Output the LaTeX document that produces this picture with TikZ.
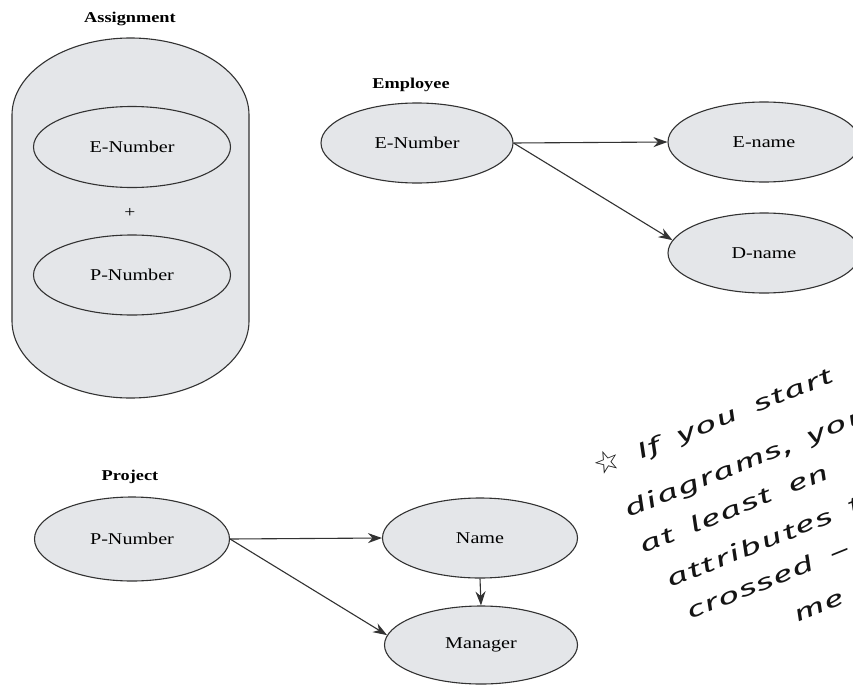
\documentclass[tikz,border=0pt]{standalone}
\usepackage{fontspec}
\setmainfont{Liberation Serif}[FakeStretch=1.22]
\newfontfamily\handfont{Fira Sans}[FakeStretch=1.7, LetterSpace=6, WordSpace=1.7]
\newfontfamily\starfont{DejaVu Sans}
\usetikzlibrary{shapes.geometric,arrows.meta}

\definecolor{attrfill}{RGB}{228,230,233}
\definecolor{inkline}{RGB}{50,50,50}
\definecolor{penink}{RGB}{20,20,20}

\begin{document}
\begin{tikzpicture}[x=1pt,y=-1pt,
  attr/.style={ellipse, draw=inkline, fill=attrfill, line width=1.1pt,
    minimum width=194pt, minimum height=80pt, inner sep=0pt,
    font=\fontsize{16.5}{19}\selectfont},
  heading/.style={font=\fontsize{15}{18}\selectfont\bfseries, inner sep=0pt},
  dep/.style={draw=inkline, line width=1.1pt, -{Stealth[length=14pt,width=10pt]}},
  note/.style={font=\handfont\itshape\fontsize{22}{26}\selectfont, text=penink,
    rotate=22, anchor=base west, inner sep=0pt},
]
\useasboundingbox (0,0) rectangle (853,685);
\clip (0,0) rectangle (853,685);
\fill[white] (0,0) rectangle (853,685);

% ---- Assignment: composite key ----
\node[heading] (asgT) at (130,19) {Assignment};
\draw[draw=inkline, fill=attrfill, line width=1.1pt]
  (12,115) arc[start angle=180, end angle=360, x radius=118.5, y radius=77]
  -- (249,321) arc[start angle=0, end angle=180, x radius=118.5, y radius=77]
  -- cycle;
\node[attr, minimum width=197pt, minimum height=81pt] (asgE) at (132,147) {E-Number};
\node[font=\fontsize{16}{19}\selectfont, inner sep=0pt] (plus) at (130,213) {+};
\node[attr, minimum width=197pt] (asgP) at (132,275) {P-Number};

% ---- Employee ----
\node[heading] (empT) at (411,85) {Employee};
\node[attr, minimum width=192pt] (empE) at (417,143) {E-Number};
\node[attr, minimum width=192pt] (ename) at (764,142) {E-name};
\node[attr, minimum width=192pt] (dname) at (764,253) {D-name};
\draw[dep] (empE.east) -- (ename.west);
\draw[dep] (empE.east) -- (dname.172);

% ---- Project ----
\node[heading] (prjT) at (130,477) {Project};
\node[attr, minimum width=195pt, minimum height=84pt] (prjP) at (132,539) {P-Number};
\node[attr, minimum width=195pt] (pname) at (480,538) {Name};
\node[attr, minimum width=193pt, minimum height=78pt] (mgr) at (481,645) {Manager};
\draw[dep] (prjP.east) -- (pname.west);
\draw[dep] (prjP.east) -- (mgr.174);
\draw[dep] (pname.south) -- (mgr.north);

% ---- handwritten remark ----
\node[note] (n1) at (598,477) {{\starfont\fontsize{30}{34}\selectfont ☆} If you start};
\node[note] (n2) at (628,518) {diagrams, you};
\node[note] (n3) at (643,554) {at least en};
\node[note] (n4) at (670,588) {attributes t};
\node[note] (n5) at (690,620) {crossed –};
\node[note] (n6) at (797,623) {me};
\end{tikzpicture}
\end{document}
